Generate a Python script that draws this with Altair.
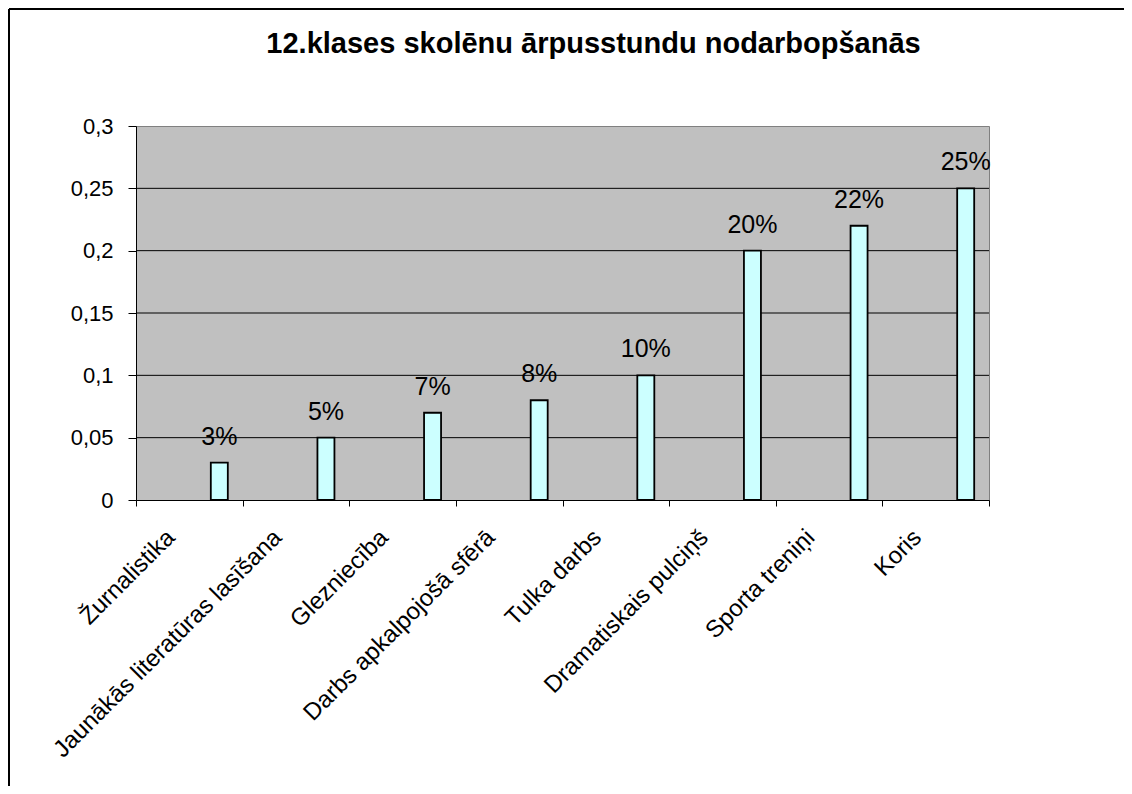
import altair as alt
import pandas as pd

categories = ["Žurnalistika", "Jaunākās literatūras lasīšana", "Glezniecība",
              "Darbs apkalpojošā sfērā", "Tulka darbs", "Dramatiskais pulciņš",
              "Sporta treniņi", "Koris"]
values = [0.03, 0.05, 0.07, 0.08, 0.10, 0.20, 0.22, 0.25]
value_labels = ["3%", "5%", "7%", "8%", "10%", "20%", "22%", "25%"]
y_ticks = [0, 0.05, 0.1, 0.15, 0.2, 0.25, 0.3]
grid_values = [0.05, 0.1, 0.15, 0.2, 0.25]
title_text = "12.klases skolēnu ārpusstundu nodarbopšanās"

W, H = 853, 374
PAD_L, PAD_T = 128, 118
PAD_R, PAD_B = 135, 286
FONT = "Liberation Sans"

df = pd.DataFrame({"cat": categories, "val": values, "lab": value_labels})
grid_df = pd.DataFrame({"g": grid_values})
one_df = pd.DataFrame({"k": [0]})

y_scale = alt.Scale(domain=[0, 0.3], nice=False, zero=True)

x_axis = alt.Axis(
    title=None, labelAngle=-45, labelAlign="right", labelBaseline="top",
    labelOffset=-27, labelPadding=19, tickSize=6, tickBand="extent",
    domainColor="black", tickColor="black", labelColor="black",
    labelFont=FONT, labelFontSize=24, labelLimit=0, labelOverlap=False,
    domainWidth=1, tickWidth=1,
)
y_axis = alt.Axis(
    title=None, values=y_ticks, grid=False,
    labelExpr="replace(format(datum.value, '~g'), '.', ',')",
    tickSize=8, labelPadding=15, domainColor="black", tickColor="black",
    labelColor="black", labelFont=FONT, labelFontSize=22,
    domainWidth=1, tickWidth=1,
)

grid = alt.Chart(grid_df).mark_rule(color="#000000", strokeWidth=1).encode(
    y=alt.Y("g:Q", scale=y_scale, axis=y_axis)
)

bars = alt.Chart(df).mark_bar(
    width=17, xOffset=30, fill="#CCFFFF", stroke="black", strokeWidth=1.8
).encode(
    x=alt.X("cat:N", sort=categories,
            scale=alt.Scale(paddingInner=0, paddingOuter=0), axis=x_axis),
    y=alt.Y("val:Q", scale=y_scale, axis=y_axis),
)

texts = alt.Chart(df).mark_text(
    dx=30, dy=-18, baseline="alphabetic", align="center",
    font=FONT, fontSize=25, color="black"
).encode(
    x=alt.X("cat:N", sort=categories, axis=x_axis),
    y=alt.Y("val:Q", scale=y_scale, axis=y_axis),
    text="lab:N",
)

border_top = alt.Chart(one_df).mark_rule(color="black", strokeWidth=2).encode(
    x=alt.value(-PAD_L + 1), x2=alt.value(W + PAD_R), y=alt.value(-PAD_T + 1)
)
border_left = alt.Chart(one_df).mark_rule(color="black", strokeWidth=2).encode(
    x=alt.value(-PAD_L + 1), y=alt.value(-PAD_T + 1), y2=alt.value(H + PAD_B)
)

chart = alt.layer(grid, bars, texts, border_top, border_left).properties(
    width=W, height=H,
    background="white",
    title=alt.Title(
        title_text, font=FONT, fontSize=29, fontWeight="bold", color="black",
        anchor="middle", frame="group", dx=31, offset=-74, baseline="alphabetic",
    ),
    autosize=alt.AutoSizeParams(type="none"),
    padding={"left": PAD_L, "top": PAD_T, "right": PAD_R, "bottom": PAD_B},
).configure_view(
    fill="#C0C0C0", stroke="#808080", strokeWidth=1
)

chart.save("out.html", embed_options={"renderer": "svg", "actions": False})
